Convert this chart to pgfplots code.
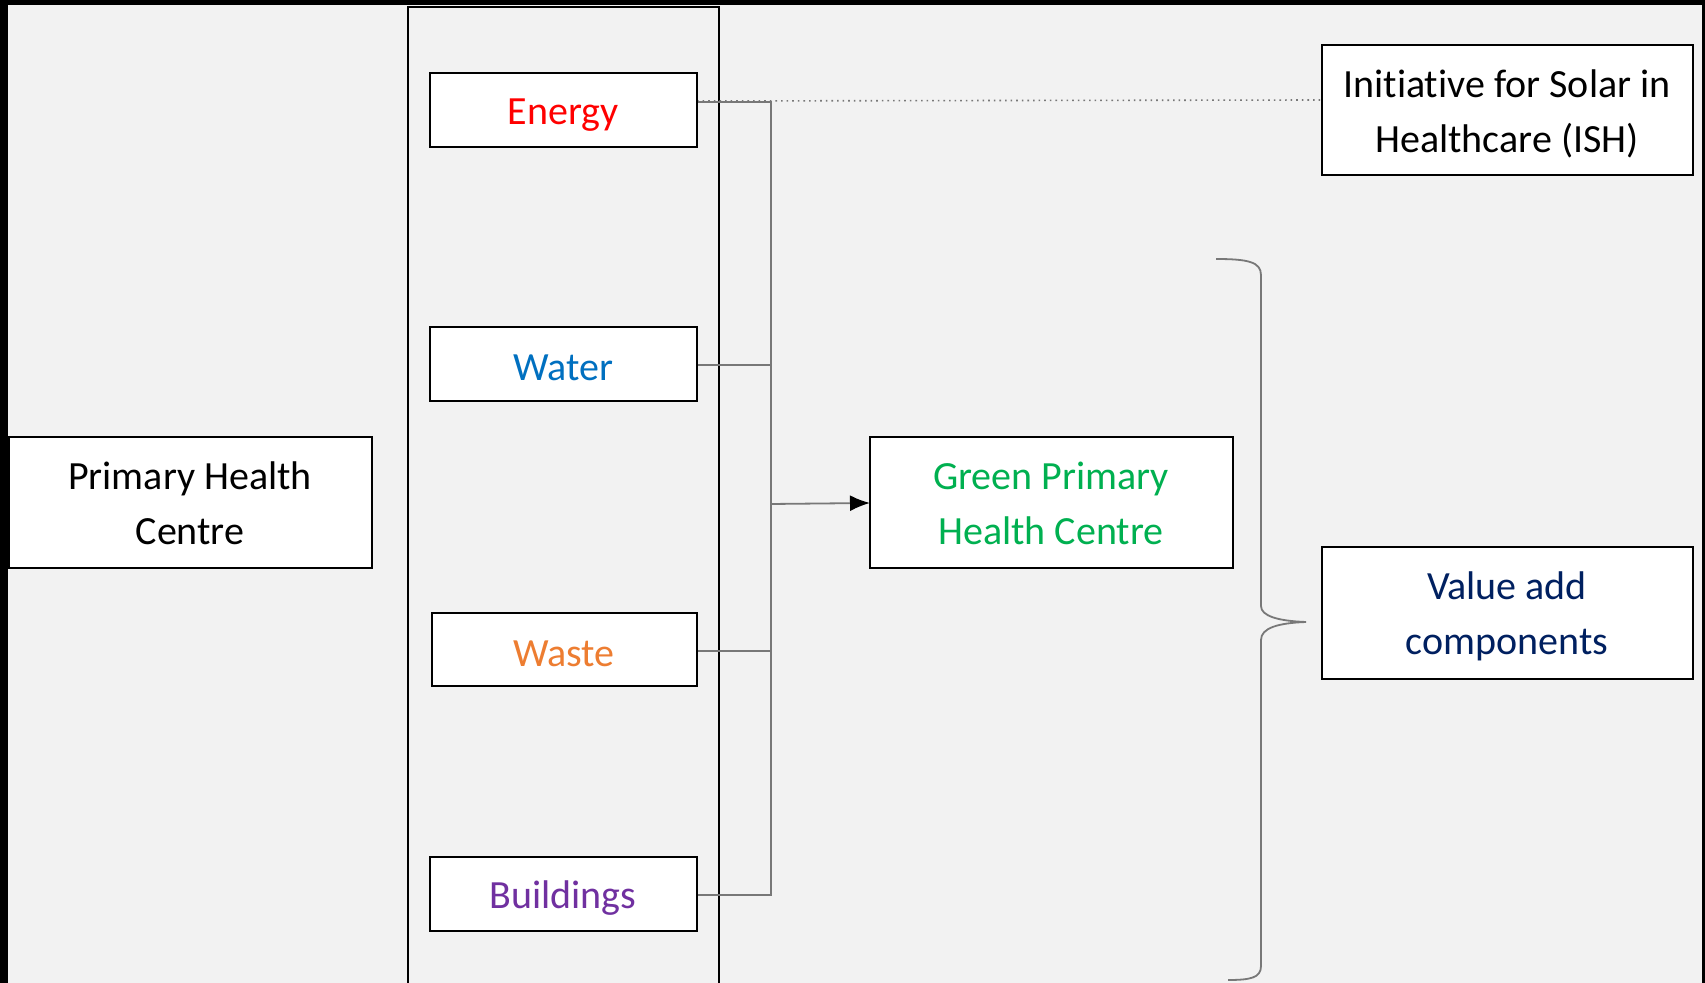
\documentclass[border=0pt]{standalone}
\usepackage{pgfplots}
\pgfplotsset{compat=1.18}
\usepackage{fontspec}
\setmainfont[Ligatures=NoCommon]{Carlito}
\usetikzlibrary{arrows.meta}
\definecolor{bg}{RGB}{242,242,242}
\definecolor{cenergy}{RGB}{255,0,0}
\definecolor{cwater}{RGB}{0,112,192}
\definecolor{cwaste}{RGB}{237,125,49}
\definecolor{cbuild}{RGB}{112,48,160}
\definecolor{cgreen}{RGB}{0,176,80}
\definecolor{cnavy}{RGB}{0,32,96}
\definecolor{conn}{RGB}{120,120,120}
\begin{document}
\begin{tikzpicture}
\begin{axis}[scale only axis, width=426.25pt, height=245.75pt,
  xmin=0, xmax=1705, ymin=0, ymax=983, y dir=reverse, hide axis, clip=true]
% background and dark frame edges
\fill[bg] (0,0) rectangle (1705,983);
\fill[black] (0,0) rectangle (1705,5);
\fill[black] (0,0) rectangle (8,983);
\fill[black] (1702,0) rectangle (1705,983);
% tall middle frame
\draw[line width=0.55pt, black] (408,7) rectangle (719,995);
% connectors
\addplot[conn, line width=0.45pt, no markers] coordinates {(697,102) (771,102) (771,895) (697,895)};
\addplot[conn, line width=0.45pt, no markers] coordinates {(697,365) (771,365)};
\addplot[conn, line width=0.45pt, no markers] coordinates {(697,651) (771,651)};
\addplot[conn, line width=0.4pt, densely dotted, no markers] coordinates {(697,101) (1322,100)};
\draw[conn, line width=0.45pt, -{Latex[length=5pt,width=4pt,black]}] (771,504) -- (870,503);
% brace
\draw[conn, line width=0.45pt] (1216,259) .. controls (1248,259) and (1261,262) .. (1261,275)
  -- (1261,606) .. controls (1261,616) and (1278,621) .. (1306,622)
  .. controls (1278,623) and (1261,628) .. (1261,640)
  -- (1261,966) .. controls (1261,978) and (1250,980) .. (1228,980);
% boxes
\tikzset{bx/.style={line width=0.65pt, draw=black, fill=white}}
\tikzset{tx/.style={align=center, font=\fontsize{10}{13.75}\selectfont}}
\draw[bx] (430,73) rectangle (697,147);
\draw[bx] (430,327) rectangle (697,401);
\draw[bx] (432,613) rectangle (697,686);
\draw[bx] (430,857) rectangle (697,931);
\draw[bx] (9,437) rectangle (372,568);
\draw[bx] (870,437) rectangle (1233,568);
\draw[bx] (1322,45) rectangle (1693,175);
\draw[bx] (1322,547) rectangle (1693,679);
% texts
\node[tx, text=cenergy] at (563,115) {Energy};
\node[tx, text=cwater] at (563,368) {Water};
\node[tx, text=cwaste] at (564,654) {Waste};
\node[tx, text=cbuild] at (563,898) {Buildings};
\node[tx, text=black] at (190,503) {Primary Health\\Centre};
\node[tx, text=cgreen] at (1051,503) {Green Primary\\Health Centre};
\node[tx, text=black] at (1507,114) {Initiative for Solar in\\Healthcare (ISH)};
\node[tx, text=cnavy] at (1507,616) {Value add\\components};
\end{axis}
\end{tikzpicture}
\end{document}
